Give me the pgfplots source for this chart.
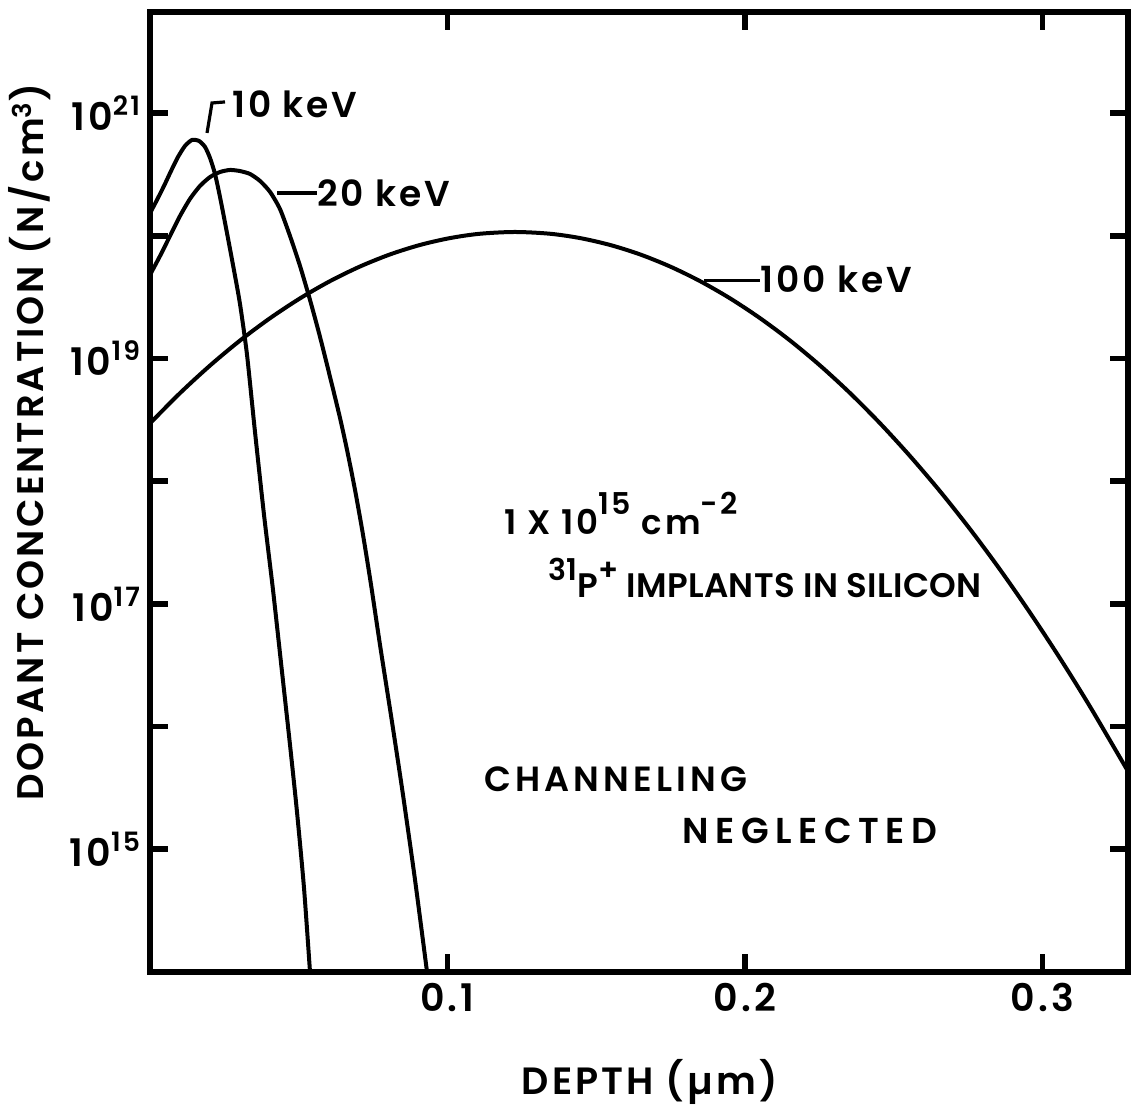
\documentclass[border=0pt]{standalone}
\usepackage{fontspec}
\setmainfont{Poppins}[UprightFont={* SemiBold}, LetterSpace=8]
\usepackage{pgfplots}
\usepackage{pgfplotstable}
\pgfplotsset{compat=1.18}

% Phosphorus implant profiles in silicon, dose 1e15 cm^-2
\pgfplotstableread{
x        y
0        1.53e20
0.00235  1.96e20
0.00471  2.55e20
0.00706  3.37e20
0.00941  4.39e20
0.01176  5.40e20
0.01412  6.04e20
0.01647  5.93e20
0.01849  5.30e20
0.02017  4.31e20
0.02185  3.19e20
0.02353  2.07e20
0.02555  1.16e20
0.02790  5.78e19
0.03025  2.78e19
0.03261  1.07e19
0.03529  2.52e18
0.03832  5.31e17
0.04134  1.30e17
0.04437  2.79e16
0.04706  7.08e15
0.04941  2.01e15
0.05176  4.84e14
0.05378  1e14
}\tenkev
\pgfplotstableread{
x        y
0        4.80e19
0.00336  6.84e19
0.00672  9.96e19
0.01008  1.45e20
0.01345  2.00e20
0.01681  2.55e20
0.02017  3.01e20
0.02353  3.31e20
0.02689  3.44e20
0.03025  3.37e20
0.03361  3.19e20
0.03697  2.80e20
0.04034  2.28e20
0.04370  1.65e20
0.04706  9.96e19
0.05042  5.68e19
0.05378  3.00e19
0.05714  1.50e19
0.06118  6.08e18
0.06387  3.27e18
0.06622  1.80e18
0.06891  8.48e17
0.07160  3.65e17
0.07429  1.43e17
0.07731  4.62e16
0.08134  1.09e16
0.08504  2.77e15
0.08908  5.62e14
0.09311  1e14
}\twentykev
\pgfplotstableread{
x        y
0        2.96e18
0.01008  5.22e18
0.02017  8.76e18
0.03025  1.40e19
0.04034  2.13e19
0.05042  3.09e19
0.06050  4.27e19
0.07059  5.62e19
0.08067  7.05e19
0.09076  8.42e19
0.10084  9.58e19
0.11092  1.039e20
0.12269  1.074e20
0.13445  1.039e20
0.14454  9.58e19
0.15462  8.42e19
0.16471  7.05e19
0.17479  5.62e19
0.18487  4.27e19
0.19496  3.09e19
0.20504  2.13e19
0.21513  1.40e19
0.22521  8.76e18
0.23529  5.22e18
0.24538  2.96e18
0.25546  1.60e18
0.26555  8.26e17
0.27563  4.06e17
0.28571  1.90e17
0.29580  8.45e16
0.30588  3.59e16
0.31597  1.45e16
0.32874  4.30e15
}\hundredkev

\begin{document}
\begin{tikzpicture}
\begin{axis}[
  scale only axis,
  width=489bp, height=480bp,
  xmin=0, xmax=0.3287,
  ymode=log, ymin=1e14, ymax=6.67e21,
  axis line style={line width=3bp},
  every tick/.style={black, line width=2.8bp},
  major tick length=9bp, minor tick length=9bp,
  tick align=inside,
  xtick={0.1,0.2,0.3},
  xticklabels={0.1,0.2,0.3},
  ytick={1e15,1e17,1e19,1e21},
  yticklabels={10\textsuperscript{15},10\textsuperscript{17},10\textsuperscript{19},10\textsuperscript{21}},
  minor ytick={1e16,1e18,1e20},
  tick label style={font=\fontsize{19bp}{19bp}\selectfont},
  xticklabel style={yshift=-2bp},
  yticklabel style={xshift=-1bp},
  xlabel={DEPTH (µm)},
  ylabel={DOPANT CONCENTRATION (N/cm\textsuperscript{3})},
  every axis x label/.style={at={(axis description cs:0.511,-0.1146)}, anchor=center,
    font=\fontsize{19bp}{19bp}\selectfont},
  every axis y label/.style={at={(axis description cs:-0.1227,0.552)}, rotate=90, anchor=center,
    font=\fontsize{18.5bp}{18.5bp}\selectfont},
  clip=true,
]
\addplot[black, line width=2bp, smooth, tension=0.4] table[x=x, y=y] {\tenkev};
\addplot[black, line width=2bp, smooth, tension=0.4] table[x=x, y=y] {\twentykev};
\addplot[black, line width=2bp, smooth, tension=0.5] table[x=x, y=y] {\hundredkev};

% curve labels with leaders
\draw[line width=1.6bp] (axis description cs:0.0583,0.8740) -- (axis description cs:0.0634,0.9052) -- (axis description cs:0.0767,0.9063);
\node[anchor=base west, inner sep=0pt, font=\fontsize{18bp}{18bp}\selectfont] at (axis description cs:0.0838,0.8896) {10 keV};
\draw[line width=1.6bp] (axis description cs:0.1299,0.8115) -- (axis description cs:0.1708,0.8115);
\node[anchor=west, inner sep=0pt, font=\fontsize{18bp}{18bp}\selectfont] at (axis description cs:0.1708,0.8115) {20 keV};
\draw[line width=1.6bp] (axis description cs:0.5665,0.7200) -- (axis description cs:0.6237,0.7200);
\node[anchor=west, inner sep=0pt, font=\fontsize{18bp}{18bp}\selectfont] at (axis description cs:0.6237,0.7215) {100 keV};

% annotations
\node[anchor=base, inner sep=0pt, font=\fontsize{17bp}{17bp}\selectfont] at (axis description cs:0.4816,0.4552)
  {1 X 10\raisebox{0.6em}{\fontsize{15bp}{15bp}\selectfont 15} cm\raisebox{0.6em}{\fontsize{15bp}{15bp}\selectfont -2}};
\node[anchor=base, inner sep=0pt, font=\fontsize{17bp}{17bp}\selectfont\addfontfeature{LetterSpace=1}] at (axis description cs:0.6288,0.3896)
  {\raisebox{0.5em}{\fontsize{15bp}{15bp}\selectfont 31}P\raisebox{0.5em}{\fontsize{15bp}{15bp}\selectfont +} IMPLANTS IN SILICON};
\node[anchor=base, inner sep=0pt, font=\fontsize{17.5bp}{17.5bp}\selectfont\addfontfeature{LetterSpace=12}] at (axis description cs:0.4765,0.1875) {CHANNELING};
\node[anchor=base, inner sep=0pt, font=\fontsize{18bp}{18bp}\selectfont\addfontfeature{LetterSpace=18}] at (axis description cs:0.6748,0.1340) {NEGLECTED};
\end{axis}
\pgfresetboundingbox
\path[use as bounding box] (-75bp,-68bp) rectangle (491.5bp,486bp);
\end{tikzpicture}
\end{document}
